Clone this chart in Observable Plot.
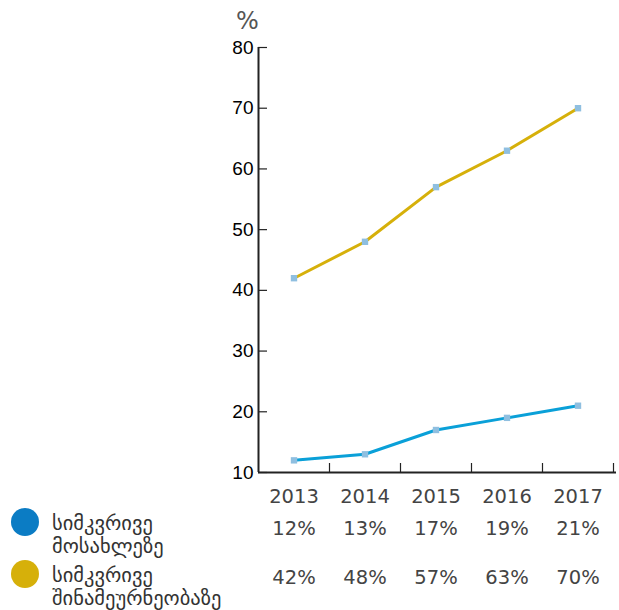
<!DOCTYPE html>
<html>
<head>
<meta charset="utf-8">
<script src="https://cdn.jsdelivr.net/npm/d3@7"></script>
<script src="https://cdn.jsdelivr.net/npm/@observablehq/plot@0.6"></script>
<style>
  html, body { margin: 0; padding: 0; background: #fff; }
  #wrap { position: relative; width: 619px; height: 610px; }
  .legend { position: absolute; left: 11px; font-family: "DejaVu Sans", sans-serif; font-size: 20.5px; color: #333; }
  .legend .dot { position: absolute; left: 0; width: 28px; height: 28px; border-radius: 50%; }
  .legend .lab { position: absolute; left: 41px; line-height: 23px; white-space: nowrap; }
</style>
</head>
<body>
<div id="wrap"></div>
<script>
const years = [2013, 2014, 2015, 2016, 2017];
const population = [12, 13, 17, 19, 21];
const agriculture = [42, 48, 57, 63, 70];
const seriesNames = ["სიმკვრივე\nმოსახლეზე", "სიმკვრივე\nშინამეურნეობაზე"];
const lineColors = ["#0aa0d8", "#d6b00a"];
const legendColors = ["#0b7cc4", "#d6b00a"];
const markerColor = "#8fbfe0";
const yTicks = [10, 20, 30, 40, 50, 60, 70, 80];
const bandEdges = [2013.5, 2014.5, 2015.5, 2016.5, 2017.5];

const rows = [];
years.forEach((y, i) => {
  rows.push({year: y, value: population[i], s: 0});
  rows.push({year: y, value: agriculture[i], s: 1});
});

const txt = {textAnchor: "middle", lineAnchor: "middle", fill: "#444", fontSize: 19.5, fontFamily: "'DejaVu Sans', sans-serif"};

const chart = Plot.plot({
  width: 619,
  height: 610,
  marginLeft: 258,
  marginRight: 6,
  marginTop: 47,
  marginBottom: 138,
  style: {fontFamily: "'Liberation Sans', Arial, sans-serif", fontSize: "19px", overflow: "visible"},
  x: {domain: [2012.5, 2017.5]},
  y: {domain: [10, 80]},
  marks: [
    Plot.axisY({ticks: yTicks, tickSize: -9, tickPadding: 14, fontSize: 19, color: "#000", stroke: "#222", label: null, strokeWidth: 1.2}),
    Plot.axisX({ticks: bandEdges, tickSize: -9, tickFormat: () => "", stroke: "#222", label: null, strokeWidth: 1.2}),
    Plot.ruleX([2012.5], {stroke: "#222", strokeWidth: 2}),
    Plot.ruleY([10], {stroke: "#222", strokeWidth: 2, insetRight: -3}),
    Plot.line(rows, {x: "year", y: "value", z: "s", stroke: d => lineColors[d.s], strokeWidth: 3}),
    Plot.dot(rows, {x: "year", y: "value", symbol: "square", r: 3.6, fill: markerColor}),
    Plot.text(["%"], {...txt, frameAnchor: "top-left", dx: -11, dy: -26, fontSize: 24, fill: "#555"}),
    Plot.text(years, {...txt, x: d => d, frameAnchor: "bottom", dy: 24, text: d => String(d)}),
    Plot.text(population, {...txt, x: (d, i) => years[i], frameAnchor: "bottom", dy: 56, text: d => d + "%"}),
    Plot.text(agriculture, {...txt, x: (d, i) => years[i], frameAnchor: "bottom", dy: 105, text: d => d + "%"})
  ]
});

const wrap = document.getElementById("wrap");
wrap.appendChild(chart);
chart.style.position = "absolute";
chart.style.left = "0";
chart.style.top = "0";

const legendTops = [508, 560];
seriesNames.forEach((name, i) => {
  const el = document.createElement("div");
  el.className = "legend";
  el.style.top = legendTops[i] + "px";
  const dot = document.createElement("div");
  dot.className = "dot";
  dot.style.background = legendColors[i];
  const lab = document.createElement("div");
  lab.className = "lab";
  lab.style.top = "4px";
  lab.innerHTML = name.split("\n").join("<br>");
  el.appendChild(dot);
  el.appendChild(lab);
  wrap.appendChild(el);
});
</script>
</body>
</html>
